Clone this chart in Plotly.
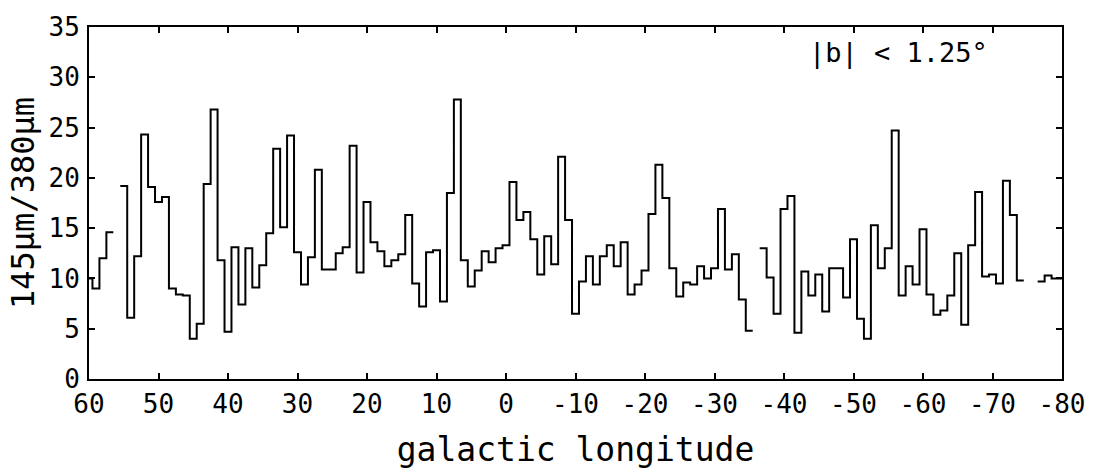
import plotly.graph_objects as go

# Galactic longitude of each 1-degree bin centre (deg), from l = 60 down to l = -80
longitude = list(range(60, -81, -1))

# 145um / 380um ratio per bin; None marks bins without data
ratio = [
    10.0, 9.0, 12.0, 14.6, None, 19.2, 6.1, 12.2, 24.3, 19.1,     # 60 .. 51
    17.6, 18.1, 9.0, 8.4, 8.3, 4.0, 5.5, 19.4, 26.8, 11.8,        # 50 .. 41
    4.7, 13.1, 7.4, 13.0, 9.1, 11.3, 14.5, 22.9, 15.1, 24.2,      # 40 .. 31
    12.6, 9.4, 12.1, 20.8, 10.9, 10.9, 12.5, 13.1, 23.2, 10.6,    # 30 .. 21
    17.6, 13.6, 12.7, 11.2, 11.8, 12.4, 16.3, 9.5, 7.2, 12.6,     # 20 .. 11
    12.8, 7.7, 18.5, 27.8, 11.8, 9.2, 10.8, 12.7, 11.6, 13.0,     # 10 .. 1
    13.3, 19.6, 15.8, 16.6, 13.9, 10.4, 14.2, 11.4, 22.1, 15.8,   # 0 .. -9
    6.5, 9.7, 12.2, 9.4, 12.2, 13.3, 11.2, 13.6, 8.4, 9.4,        # -10 .. -19
    10.8, 16.4, 21.3, 18.0, 11.0, 8.2, 9.6, 9.4, 11.2, 10.0,      # -20 .. -29
    11.0, 16.9, 10.9, 12.4, 7.9, 4.8, None, 13.0, 10.1, 6.5,      # -30 .. -39
    16.9, 18.2, 4.6, 10.7, 8.3, 10.4, 6.7, 11.0, 11.0, 8.1,       # -40 .. -49
    13.9, 6.0, 4.0, 15.3, 11.0, 13.0, 24.7, 8.3, 11.2, 9.4,       # -50 .. -59
    14.9, 8.4, 6.4, 6.8, 8.3, 12.5, 5.4, 13.3, 18.6, 10.2,        # -60 .. -69
    10.4, 9.5, 19.7, 16.3, 9.8, None, None, 9.7, 10.3, 10.0,      # -70 .. -79
    10.0,                                                          # -80
]

bin_width = 1.0

x_ticks = [60, 50, 40, 30, 20, 10, 0, -10, -20, -30, -40, -50, -60, -70, -80]
x_tick_labels = ["60", "50", "40", "30", "20", "10", "0", "-10", "-20",
                 "-30", "-40", "-50", "-60", "-70", "-80"]
y_ticks = [0, 5, 10, 15, 20, 25, 30, 35]

# Build the histogram outline: each bin contributes a flat top from its
# upper to its lower edge; adjacent bins join with vertical risers and
# empty bins break the line.
step_x, step_y = [], []
for c, v in zip(longitude, ratio):
    if v is None:
        step_x.append(None)
        step_y.append(None)
        continue
    step_x += [c + bin_width / 2, c - bin_width / 2]
    step_y += [v, v]

fig = go.Figure()
fig.add_trace(go.Scatter(
    x=step_x, y=step_y, mode="lines",
    line=dict(color="black", width=2),
    connectgaps=False, hoverinfo="skip", showlegend=False,
))

font_family = "DejaVu Sans Mono"

axis_common = dict(
    showline=True, linecolor="black", linewidth=2, mirror="ticks",
    ticks="inside", ticklen=6, tickwidth=2, tickcolor="black",
    showgrid=False, zeroline=False,
    tickfont=dict(family=font_family, size=26, color="black"),
)

fig.update_xaxes(
    range=[60, -80], tickvals=x_ticks, ticktext=x_tick_labels,
    ticklabelstandoff=1,
    title=dict(text="galactic longitude",
               font=dict(family=font_family, size=33, color="black"),
               standoff=20),
    **axis_common,
)
fig.update_yaxes(
    range=[0, 35], tickvals=y_ticks,
    ticklabelstandoff=2,
    title=dict(text="145μm/380μm",
               font=dict(family=font_family, size=32, color="black"),
               standoff=4),
    **axis_common,
)

fig.add_annotation(
    x=0.832, y=0.925, xref="paper", yref="paper",
    xanchor="center", yanchor="middle",
    text="|b| < 1.25°", showarrow=False,
    font=dict(family=font_family, size=27, color="black"),
)

fig.update_layout(
    width=1097, height=474,
    margin=dict(l=89, r=33, t=19, b=95),
    paper_bgcolor="white", plot_bgcolor="white",
)

fig.write_html("out.html")
